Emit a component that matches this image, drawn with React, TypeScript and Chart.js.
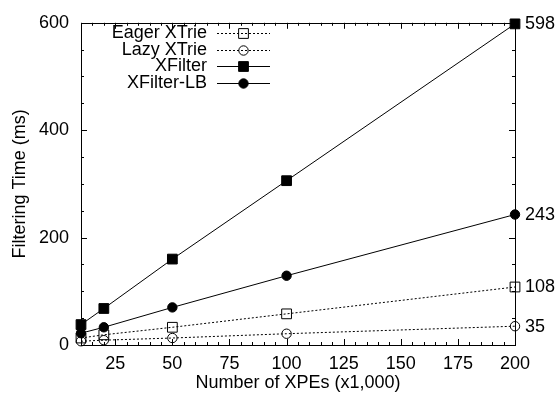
import React, { useEffect, useRef } from "react";
import { Chart, registerables } from "chart.js";

Chart.register(...registerables);

// ---- data ----
const xValues = [10, 20, 50, 100, 200];
const eagerXTrie = [13, 19, 33, 58, 108];
const lazyXTrie = [7, 9, 13, 21, 35];
const xFilter = [38, 68, 160, 306, 598];
const xFilterLB = [22, 33, 70, 129, 243];

const seriesNames = ["Eager XTrie", "Lazy XTrie", "XFilter", "XFilter-LB"];

const xTicks = [25, 50, 75, 100, 125, 150, 175, 200];
const yTicks = [0, 200, 400, 600];
const xMinorStep = 5;
const yMinorStep = 50;

const FONT_FAMILY = "'Liberation Sans', Arial, sans-serif";
const FONT_SIZE = 18;

type Marker = { shape: "square" | "circle"; filled: boolean };
const markers: Marker[] = [
  { shape: "square", filled: false },
  { shape: "circle", filled: false },
  { shape: "square", filled: true },
  { shape: "circle", filled: true },
];
const dashes = [[2, 2], [2, 2], [], []];

const SQUARE_RADIUS = 6.9; // chart.js 'rect' side = radius * sqrt(2)
const CIRCLE_RADIUS = 4.7;

function drawMarker(ctx: CanvasRenderingContext2D, m: Marker, x: number, y: number) {
  ctx.save();
  ctx.setLineDash([]);
  ctx.lineWidth = 1;
  ctx.strokeStyle = "#000";
  ctx.fillStyle = "#000";
  ctx.beginPath();
  if (m.shape === "square") {
    const h = SQUARE_RADIUS * Math.SQRT1_2;
    ctx.rect(x - h, y - h, 2 * h, 2 * h);
  } else {
    ctx.arc(x, y, CIRCLE_RADIUS, 0, Math.PI * 2);
  }
  if (m.filled) ctx.fill();
  ctx.stroke();
  ctx.restore();
}

const framePlugin = {
  id: "gnuplotFrame",
  beforeDatasetsDraw(chart: any) {
    const { ctx, chartArea: a, scales } = chart;
    const xs = scales.x;
    const ys = scales.y;
    ctx.save();
    ctx.strokeStyle = "#000";
    ctx.lineWidth = 1;
    ctx.setLineDash([]);
    ctx.strokeRect(
      Math.round(a.left) + 0.5,
      Math.round(a.top) + 0.5,
      Math.round(a.right - a.left),
      Math.round(a.bottom - a.top)
    );
    ctx.beginPath();
    for (let v = xs.min; v <= xs.max + 1e-9; v += xMinorStep) {
      const major = xTicks.includes(v);
      const len = major ? 6 : 3;
      const px = Math.round(xs.getPixelForValue(v)) + 0.5;
      ctx.moveTo(px, a.bottom);
      ctx.lineTo(px, a.bottom - len);
      ctx.moveTo(px, a.top);
      ctx.lineTo(px, a.top + len);
    }
    for (let v = ys.min; v <= ys.max + 1e-9; v += yMinorStep) {
      const major = yTicks.includes(v);
      const len = major ? 6 : 3;
      const py = Math.round(ys.getPixelForValue(v)) + 0.5;
      ctx.moveTo(a.left, py);
      ctx.lineTo(a.left + len, py);
      ctx.moveTo(a.right, py);
      ctx.lineTo(a.right - len, py);
    }
    ctx.stroke();
    ctx.restore();
  },
  afterDatasetsDraw(chart: any) {
    const { ctx, chartArea: a, scales } = chart;
    const ys = scales.y;
    ctx.save();
    ctx.fillStyle = "#000";
    ctx.font = `${FONT_SIZE}px ${FONT_FAMILY}`;
    ctx.textAlign = "left";
    ctx.textBaseline = "middle";
    chart.data.datasets.forEach((ds: any) => {
      const last = ds.data[ds.data.length - 1];
      ctx.fillText(String(last.y), a.right + 10, ys.getPixelForValue(last.y) + 0.5);
    });
    const textRight = 207;
    const lineStart = 217;
    const lineEnd = 270;
    const rowTop = 33;
    const rowStep = 16.7;
    chart.data.datasets.forEach((ds: any, i: number) => {
      const y = Math.round(rowTop + i * rowStep) + 0.5;
      ctx.textAlign = "right";
      ctx.textBaseline = "middle";
      ctx.fillText(ds.label, textRight, y);
      ctx.save();
      ctx.strokeStyle = "#000";
      ctx.lineWidth = 1;
      ctx.setLineDash(dashes[i]);
      ctx.beginPath();
      ctx.moveTo(lineStart, y);
      ctx.lineTo(lineEnd, y);
      ctx.stroke();
      ctx.restore();
      drawMarker(ctx, markers[i], (lineStart + lineEnd) / 2, y);
    });
    ctx.restore();
  },
};

const seriesValues = [eagerXTrie, lazyXTrie, xFilter, xFilterLB];

export default function App() {
  const ref = useRef<HTMLCanvasElement>(null);

  useEffect(() => {
    const canvas = ref.current;
    if (!canvas) return;
    const font = { family: FONT_FAMILY, size: FONT_SIZE };
    const chart = new Chart(canvas, {
      type: "line",
      data: {
        datasets: seriesValues.map((vals, i) => ({
          label: seriesNames[i],
          data: xValues.map((x, j) => ({ x, y: vals[j] })),
          borderColor: "#000",
          borderWidth: 1,
          borderDash: dashes[i],
          pointStyle: markers[i].shape === "square" ? "rect" : "circle",
          pointRadius: markers[i].shape === "square" ? SQUARE_RADIUS : CIRCLE_RADIUS,
          pointBorderWidth: 1,
          pointBorderColor: "#000",
          pointBackgroundColor: markers[i].filled ? "#000" : "rgba(0,0,0,0)",
          tension: 0,
          fill: false,
          clip: false as any,
        })),
      },
      options: {
        responsive: false,
        animation: false,
        devicePixelRatio: 1,
        layout: { padding: { left: 0, top: 16, right: 41, bottom: 0 } },
        plugins: { legend: { display: false }, tooltip: { enabled: false } },
        events: [],
        scales: {
          x: {
            type: "linear",
            min: 10,
            max: 200,
            grid: { display: false, drawTicks: false },
            border: { display: false },
            afterBuildTicks: (s: any) => {
              s.ticks = xTicks.map((v) => ({ value: v }));
            },
            afterFit: (s: any) => {
              s.height = 55;
            },
            ticks: { font, color: "#000", padding: 8, autoSkip: false, maxRotation: 0 },
            title: {
              display: true,
              text: "Number of XPEs (x1,000)",
              font,
              color: "#000",
              padding: { top: 0, bottom: 6 },
            },
          },
          y: {
            type: "linear",
            min: 0,
            max: 600,
            grid: { display: false, drawTicks: false },
            border: { display: false },
            afterBuildTicks: (s: any) => {
              s.ticks = yTicks.map((v) => ({ value: v }));
            },
            afterFit: (s: any) => {
              s.width = 81;
            },
            ticks: { font, color: "#000", padding: 12 },
            title: {
              display: true,
              text: "Filtering Time (ms)",
              font,
              color: "#000",
              padding: { top: 9, bottom: 0 },
            },
          },
        },
      },
      plugins: [framePlugin],
    } as any);
    return () => chart.destroy();
  }, []);

  return (
    <div style={{ position: "absolute", left: 0, top: 0, width: 556, height: 400, background: "#fff" }}>
      <canvas ref={ref} width={556} height={400} style={{ display: "block" }} />
    </div>
  );
}
